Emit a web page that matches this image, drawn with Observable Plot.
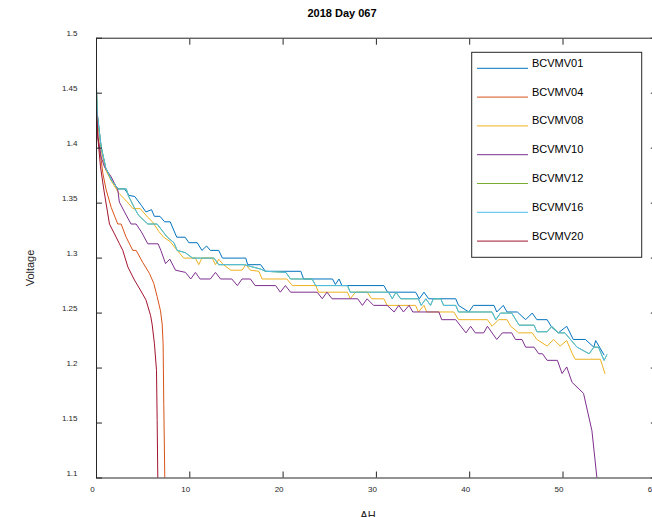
<!DOCTYPE html>
<html><head><meta charset="utf-8">
<script src="https://cdn.jsdelivr.net/npm/d3@7"></script>
<script src="https://cdn.jsdelivr.net/npm/@observablehq/plot@0.6"></script>
<style>
html,body{margin:0;padding:0;background:#fff;}
#chart{position:relative;width:652px;height:517px;overflow:hidden;}
</style></head><body><div id="chart"></div>
<script>
const titleText = "2018 Day 067";
const xLabel = "AH";
const yLabel = "Voltage";
const seriesNames = ["BCVMV01","BCVMV04","BCVMV08","BCVMV10","BCVMV12","BCVMV16","BCVMV20"];
const seriesColors = ["#0072BD","#D95319","#EDB120","#7E2F8E","#77AC30","#4DBEEE","#A2142F"];
const xTicks = [0,10,20,30,40,50,60];
const yTicks = [1.1,1.15,1.2,1.25,1.3,1.35,1.4,1.45,1.5];

const BCVMV01 = [[0,1.455],[0.1,1.43],[0.5,1.401],[1.0,1.381],[1.6,1.371],[2.3,1.363],[3.0,1.363],[3.5,1.357],[4.1,1.356],[4.8,1.348],[5.3,1.342],[5.9,1.344],[6.2,1.338],[6.8,1.338],[7.3,1.333],[7.9,1.333],[8.6,1.319],[9.5,1.319],[9.9,1.314],[10.8,1.314],[11.3,1.307],[11.8,1.311],[12.2,1.307],[13.1,1.307],[13.5,1.300],[16.0,1.300],[16.2,1.294],[17.6,1.294],[18.1,1.288],[21.9,1.288],[22.2,1.281],[25.3,1.281],[25.6,1.276],[26.0,1.281],[26.3,1.275],[30.8,1.275],[31.2,1.269],[34.2,1.269],[34.6,1.263],[35.1,1.269],[35.6,1.263],[38.5,1.263],[38.8,1.257],[39.9,1.251],[40.4,1.257],[42.6,1.257],[42.9,1.251],[43.6,1.257],[44.0,1.251],[45.1,1.251],[46.0,1.244],[46.7,1.250],[47.2,1.244],[48.3,1.244],[48.8,1.237],[49.5,1.232],[50.4,1.238],[51.1,1.226],[52.4,1.226],[53.3,1.219],[53.5,1.225],[54.4,1.212]];
const BCVMV04 = [[0,1.432],[0.14,1.41],[0.32,1.401],[0.68,1.377],[1.04,1.362],[1.58,1.346],[2.28,1.331],[2.64,1.331],[3.18,1.319],[3.89,1.307],[4.25,1.307],[4.96,1.296],[5.68,1.286],[6.14,1.277],[6.5,1.265],[6.86,1.252],[7.04,1.240],[7.14,1.222],[7.21,1.168],[7.32,1.10],[7.4,1.05]];
const BCVMV08 = [[0,1.45],[0.1,1.425],[0.5,1.398],[1.0,1.380],[1.6,1.370],[2.4,1.359],[3.3,1.351],[3.9,1.345],[4.7,1.345],[5.5,1.337],[6.0,1.333],[6.7,1.324],[7.2,1.319],[7.9,1.315],[8.65,1.307],[9.35,1.300],[10.6,1.300],[10.96,1.294],[11.3,1.300],[12.4,1.300],[12.75,1.294],[13.1,1.299],[13.6,1.294],[14.4,1.289],[15.6,1.289],[16.0,1.294],[16.5,1.289],[17.4,1.288],[17.75,1.281],[20.4,1.281],[21.0,1.275],[23.5,1.275],[23.8,1.269],[26.9,1.269],[27.2,1.263],[27.75,1.269],[29.0,1.269],[29.5,1.263],[30.8,1.263],[31.15,1.257],[34.2,1.257],[34.5,1.251],[35.1,1.257],[35.4,1.251],[38.3,1.251],[38.8,1.244],[41.9,1.244],[42.4,1.238],[43.1,1.244],[44.0,1.244],[44.4,1.238],[45.25,1.232],[46.7,1.232],[47.2,1.226],[48.3,1.220],[49.0,1.226],[49.7,1.220],[50.4,1.225],[51.0,1.213],[51.3,1.208],[54.0,1.208],[54.5,1.195]];
const BCVMV10 = [[0,1.44],[0.15,1.41],[0.5,1.392],[0.85,1.383],[1.57,1.374],[2.28,1.362],[2.45,1.351],[3.0,1.342],[3.7,1.331],[4.25,1.331],[4.8,1.324],[5.5,1.313],[6.6,1.313],[6.9,1.307],[7.4,1.295],[7.86,1.299],[8.47,1.289],[9.54,1.287],[10.1,1.281],[10.6,1.287],[11.1,1.281],[12.2,1.281],[12.75,1.287],[13.3,1.281],[14.5,1.281],[15.1,1.275],[15.6,1.281],[16.5,1.281],[17.0,1.275],[19.2,1.275],[19.7,1.269],[20.25,1.275],[20.8,1.269],[23.65,1.269],[24.2,1.263],[24.7,1.269],[25.25,1.263],[28.0,1.263],[28.5,1.257],[29.0,1.263],[29.7,1.257],[31.15,1.257],[31.9,1.251],[32.4,1.257],[32.9,1.251],[33.5,1.257],[33.9,1.251],[36.7,1.251],[37.0,1.244],[38.5,1.244],[39.6,1.232],[40.1,1.238],[40.6,1.232],[41.5,1.232],[41.9,1.238],[42.9,1.226],[43.5,1.232],[44.5,1.232],[44.9,1.226],[45.6,1.226],[46.0,1.219],[46.9,1.219],[47.4,1.213],[47.8,1.213],[48.3,1.207],[49.4,1.207],[49.9,1.195],[50.4,1.201],[50.97,1.187],[52.2,1.177],[53.1,1.143],[53.7,1.095]];
const BCVMV12 = [[0,1.452],[0.1,1.43],[0.5,1.401],[1.0,1.382],[1.6,1.371],[2.3,1.363],[3.2,1.363],[3.4,1.357],[4.1,1.345],[4.5,1.339],[5.5,1.331],[6.5,1.331],[7.4,1.321],[7.6,1.319],[8.3,1.314],[8.65,1.307],[9.5,1.305],[10.3,1.300],[12.6,1.300],[13.1,1.294],[15.8,1.294],[17.6,1.290],[18.1,1.288],[20.3,1.287],[20.8,1.281],[23.1,1.281],[23.5,1.275],[26.9,1.275],[27.2,1.269],[31.3,1.269],[31.7,1.263],[32.1,1.269],[32.6,1.263],[34.5,1.263],[34.8,1.257],[35.3,1.263],[35.8,1.257],[36.1,1.263],[36.9,1.263],[37.2,1.257],[38.5,1.257],[38.8,1.251],[42.4,1.251],[42.8,1.244],[43.3,1.250],[44.5,1.250],[45.3,1.239],[46.9,1.239],[47.2,1.233],[48.3,1.233],[48.8,1.238],[49.5,1.232],[50.2,1.232],[50.8,1.226],[51.5,1.219],[52.8,1.213],[53.3,1.219],[53.8,1.219],[54.4,1.207],[54.7,1.212]];
const BCVMV16 = [[0,1.452],[0.1,1.43],[0.5,1.401],[1.0,1.382],[1.6,1.371],[2.3,1.363],[3.2,1.363],[3.4,1.357],[4.1,1.345],[4.5,1.339],[5.5,1.331],[6.5,1.331],[7.4,1.321],[7.6,1.319],[8.3,1.314],[8.65,1.307],[9.5,1.305],[10.3,1.300],[12.6,1.300],[13.1,1.294],[15.8,1.294],[17.6,1.290],[18.1,1.288],[20.3,1.287],[20.8,1.281],[23.1,1.281],[23.5,1.275],[26.9,1.275],[27.2,1.269],[31.3,1.269],[31.7,1.263],[32.1,1.269],[32.6,1.263],[34.5,1.263],[34.8,1.257],[35.3,1.263],[35.8,1.257],[36.1,1.263],[36.9,1.263],[37.2,1.257],[38.5,1.257],[38.8,1.251],[42.4,1.251],[42.8,1.244],[43.3,1.250],[44.5,1.250],[45.3,1.239],[46.9,1.239],[47.2,1.233],[48.3,1.233],[48.8,1.238],[49.5,1.232],[50.2,1.232],[50.8,1.226],[51.5,1.219],[52.8,1.213],[53.3,1.219],[53.8,1.219],[54.4,1.207],[54.7,1.212]];
const BCVMV20 = [[0,1.437],[0.14,1.41],[0.43,1.383],[0.79,1.362],[1.39,1.331],[1.93,1.322],[2.46,1.313],[2.82,1.307],[3.36,1.292],[4.07,1.280],[4.7,1.271],[5.3,1.262],[5.79,1.248],[5.96,1.240],[6.21,1.222],[6.43,1.198],[6.5,1.153],[6.57,1.10],[6.6,1.05]];

const seriesData = [BCVMV01,BCVMV04,BCVMV08,BCVMV10,BCVMV12,BCVMV16,BCVMV20];

const fmtY = d => String(+d.toFixed(2));
const axisColor = "#262626";

const lineMarks = seriesData.map((pts, i) => Plot.line(pts, {
  x: d => d[0], y: d => d[1], stroke: seriesColors[i], strokeWidth: 1, clip: true
}));

const chart = Plot.plot({
  width: 652, height: 517,
  marginLeft: 96, marginRight: -3.8, marginTop: 37.7, marginBottom: 39.5,
  style: {fontFamily: "'Liberation Sans', Arial, sans-serif", fontSize: "8px", color: axisColor, background: "white", overflow: "visible"},
  x: {domain: [0, 60]},
  y: {domain: [1.1, 1.5]},
  marks: [
    ...lineMarks,
    Plot.frame({stroke: axisColor, strokeWidth: 1}),
    Plot.axisX(xTicks, {anchor: "bottom", tickSize: -6, tickFormat: () => "", label: null, stroke: axisColor}),
    Plot.axisX(xTicks, {anchor: "top", tickSize: -6, tickFormat: () => "", label: null, stroke: axisColor}),
    Plot.axisY(yTicks, {anchor: "left", tickSize: -6, tickFormat: () => "", label: null, stroke: axisColor}),
    Plot.axisY(yTicks, {anchor: "right", tickSize: -6, tickFormat: () => "", label: null, stroke: axisColor}),
    Plot.axisX(xTicks, {anchor: "bottom", tickSize: 0, tickPadding: 8, dx: -4, label: null, tickFormat: d => String(d), fill: axisColor}),
    Plot.axisY(yTicks, {anchor: "left", tickSize: 0, tickPadding: 19, dy: -5, label: null, tickFormat: fmtY, fill: axisColor})
  ]
});
document.getElementById("chart").appendChild(chart);

const svg = d3.select(chart);
svg.append("text").attr("x", 342).attr("y", 13).attr("text-anchor", "middle").attr("dominant-baseline", "central")
  .attr("font-size", "11px").attr("font-weight", "bold").attr("fill", "#000").text(titleText);
svg.append("text").attr("x", 368).attr("y", 515).attr("text-anchor", "middle").attr("dominant-baseline", "central")
  .attr("font-size", "11px").attr("fill", axisColor).text(xLabel);
svg.append("text").attr("transform", "translate(30,268) rotate(-90)").attr("text-anchor", "middle").attr("dominant-baseline", "central")
  .attr("font-size", "11px").attr("fill", axisColor).text(yLabel);

const lg = svg.append("g");
lg.append("rect").attr("x", 471.7).attr("y", 52.3).attr("width", 170).attr("height", 205)
  .attr("fill", "white").attr("stroke", axisColor).attr("stroke-width", 1);
seriesNames.forEach((name, i) => {
  const yy = 68.3 + i * 28.8;
  lg.append("line").attr("x1", 477).attr("x2", 528).attr("y1", yy).attr("y2", yy)
    .attr("stroke", seriesColors[i]).attr("stroke-width", 1);
  lg.append("text").attr("x", 532).attr("y", yy - 5.6).attr("text-anchor", "start").attr("dominant-baseline", "central")
    .attr("font-size", "11px").attr("fill", "#000").text(name);
});
</script></body></html>
